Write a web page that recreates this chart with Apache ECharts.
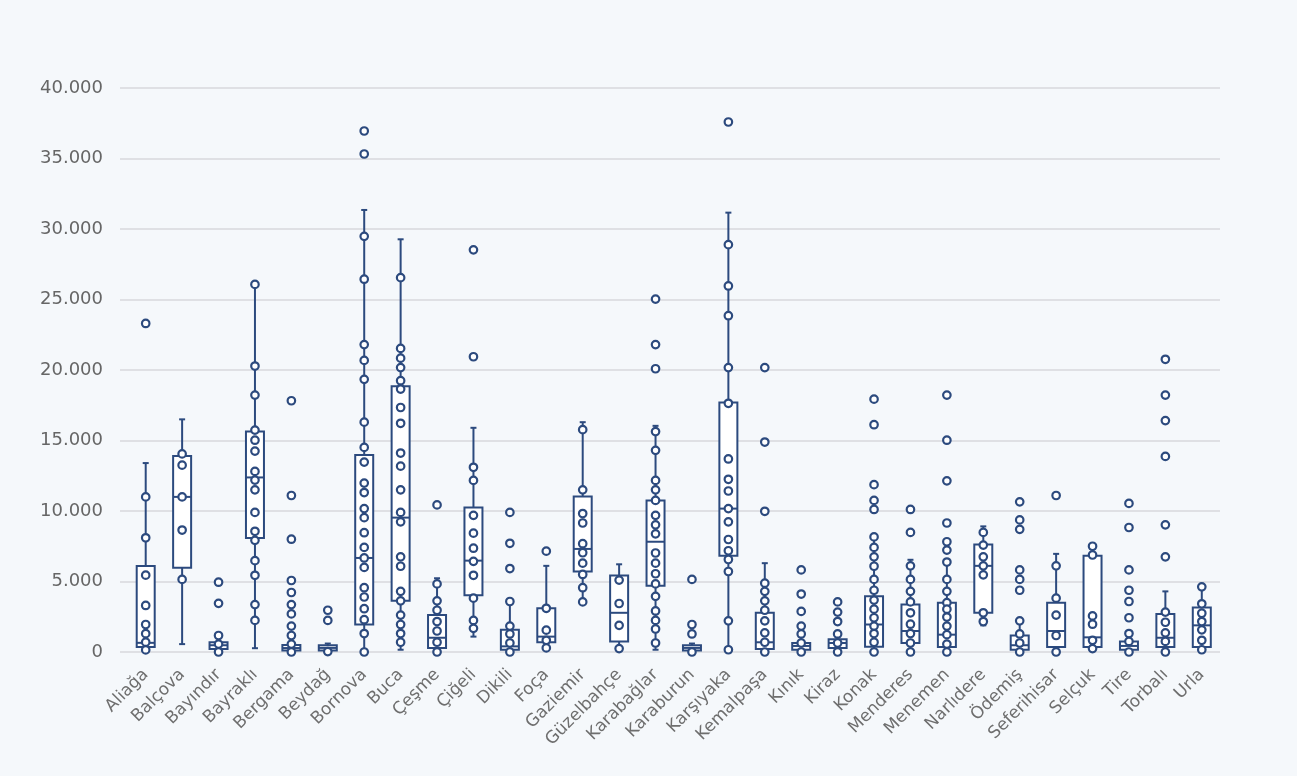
<!DOCTYPE html>
<html>
<head>
<meta charset="utf-8">
<script src="https://cdn.jsdelivr.net/npm/echarts@6/dist/echarts.min.js"></script>
<style>
  html, body { margin: 0; padding: 0; background: #f5f8fb; }
  #chart { width: 1297px; height: 776px; }
</style>
</head>
<body>
<div id="chart"></div>
<script>
// İzmir districts
const districts = ['Aliağa','Balçova','Bayındır','Bayraklı','Bergama','Beydağ','Bornova','Buca','Çeşme','Çiğeli',
  'Dikili','Foça','Gaziemir','Güzelbahçe','Karabağlar','Karaburun','Karşıyaka','Kemalpaşa','Kınık','Kiraz',
  'Konak','Menderes','Menemen','Narlıdere','Ödemiş','Seferihisar','Selçuk','Tire','Torbalı','Urla'];

// Box statistics per district: [whisker min, Q1, median, Q3, whisker max]
const boxStats = [
  [150, 350, 650, 6100, 13400],
  [560, 5980, 11000, 13900, 16500],
  [0, 210, 480, 700, 1200],
  [270, 8080, 12380, 15640, 26070],
  [0, 100, 280, 500, 1200],
  [0, 110, 290, 480, 600],
  [0, 1950, 6670, 13980, 31350],
  [160, 3630, 9530, 18840, 29270],
  [0, 290, 1010, 2620, 5230],
  [1090, 4030, 6480, 10250, 15900],
  [0, 160, 400, 1570, 3580],
  [290, 690, 1090, 3100, 6110],
  [3550, 5710, 7310, 11020, 16300],
  [240, 750, 2780, 5420, 6220],
  [160, 4700, 7820, 10750, 16040],
  [0, 110, 290, 480, 600],
  [160, 6830, 10170, 17690, 31160],
  [0, 210, 690, 2780, 6300],
  [0, 160, 430, 640, 1300],
  [0, 290, 640, 910, 1300],
  [0, 370, 1950, 3950, 8160],
  [0, 640, 1490, 3360, 6540],
  [0, 350, 1230, 3500, 6380],
  [1890, 2780, 6110, 7630, 8910],
  [0, 160, 480, 1170, 2210],
  [0, 350, 1490, 3500, 6960],
  [240, 350, 1040, 6830, 7500],
  [0, 160, 430, 750, 1300],
  [0, 350, 1010, 2700, 4300],
  [160, 350, 1890, 3150, 4620]
];

// Individual observations per district (same order as districts)
const points = [
  [23300, 11000, 8100, 5450, 3300, 1950, 1300, 700, 150],
  [14050, 13250, 11000, 8650, 5150],
  [4950, 3450, 1170, 560, 0],
  [26070, 20280, 18220, 15740, 15020, 14250, 12810, 12190, 11500, 9900, 8560, 7920, 6480, 5440, 3360, 2240],
  [17820, 11100, 8000, 5070, 4220, 3360, 2700, 1840, 1170, 560, 0],
  [2960, 2240, 30],
  [36950, 35320, 29480, 26440, 21800, 20680, 19340, 16300, 14510, 13470, 11980, 11310, 10170, 9530, 8460, 7420, 6670, 6000, 4560, 3900, 3070, 2290, 1310, 0],
  [26550, 21530, 20840, 20170, 19240, 18650, 17340, 16220, 14110, 13180, 11500, 9900, 9230, 6750, 6080, 4300, 3630, 2620, 1950, 1310, 690],
  [10430, 4830, 3630, 2960, 2160, 1490, 690, 0],
  [28520, 20940, 13100, 12170, 9690, 8430, 7360, 6430, 5440, 3820, 2240, 1680],
  [9900, 7710, 5920, 3580, 1840, 1280, 640, 0],
  [7150, 3100, 1550, 830, 290],
  [15770, 11500, 9820, 9150, 7680, 7040, 6300, 5500, 4560, 3550],
  [5100, 3440, 1890, 240],
  [25030, 21800, 20090, 15630, 14300, 12170, 11500, 10750, 9690, 9020, 8380, 7020, 6300, 5550, 4830, 3950, 2910, 2240, 1630, 640],
  [5150, 1950, 1280, 0],
  [37590, 28890, 25960, 23850, 20170, 17640, 13690, 12250, 11420, 10170, 9230, 7980, 7180, 6560, 5710, 2210, 160],
  [20170, 14890, 9980, 4880, 4300, 3630, 2960, 2210, 1360, 690, 0],
  [5820, 4110, 2880, 1840, 1280, 640, 0],
  [3550, 2830, 2160, 1280, 640, 0],
  [17930, 16120, 11870, 10750, 10110, 8160, 7420, 6750, 6080, 5150, 4380, 3680, 3040, 2430, 1840, 1310, 690, 0],
  [10110, 8480, 6110, 5150, 4300, 3550, 2780, 1970, 1310, 640, 0],
  [18220, 15020, 12140, 9150, 7820, 7230, 6380, 5150, 4300, 3500, 3040, 2480, 1840, 1230, 560, 0],
  [8480, 7580, 6750, 6110, 5470, 2780, 2160],
  [10650, 9370, 8700, 5820, 5150, 4380, 2210, 1280, 640, 0],
  [11100, 6110, 3820, 2620, 1170, 0],
  [7500, 6880, 2560, 1970, 830, 240],
  [10540, 8830, 5820, 4380, 3580, 2430, 1310, 750, 0],
  [20760, 18220, 16410, 13870, 9020, 6750, 2830, 2110, 1360, 750, 0],
  [4620, 3420, 2750, 2160, 1570, 830, 160]
];

const yTicks = { min: 0, max: 40000, interval: 5000 };

const NAVY = '#2c4a7e';
const FONT = 'DejaVu Sans';

const boxData = boxStats.map((s, i) => [i].concat(s));
const pointData = [];
points.forEach((arr, i) => arr.forEach(v => pointData.push([i, v])));

function thousands(v) {
  return String(v).replace(/\B(?=(\d{3})+(?!\d))/g, '.');
}

// Box with whiskers, short end caps and a median line
function renderBox(params, api) {
  const i = api.value(0);
  const mn = api.value(1), q1 = api.value(2), md = api.value(3), q3 = api.value(4), mx = api.value(5);
  const x = api.coord([i, 0])[0];
  const y = v => api.coord([i, v])[1];
  const half = 9, cap = 3;
  const line = { stroke: NAVY, lineWidth: 2, fill: null };
  return {
    type: 'group',
    children: [
      { type: 'line', shape: { x1: x, y1: y(mx), x2: x, y2: y(q3) }, style: line },
      { type: 'line', shape: { x1: x, y1: y(q1), x2: x, y2: y(mn) }, style: line },
      { type: 'line', shape: { x1: x - cap, y1: y(mx), x2: x + cap, y2: y(mx) }, style: line },
      { type: 'line', shape: { x1: x - cap, y1: y(mn), x2: x + cap, y2: y(mn) }, style: line },
      { type: 'rect', shape: { x: x - half, y: y(q3), width: half * 2, height: Math.max(y(q1) - y(q3), 1) },
        style: { fill: '#ffffff', stroke: NAVY, lineWidth: 2 } },
      { type: 'line', shape: { x1: x - half, y1: y(md), x2: x + half, y2: y(md) }, style: line }
    ]
  };
}

const chart = echarts.init(document.getElementById('chart'), null, { renderer: 'canvas' });
chart.setOption({
  backgroundColor: '#f5f8fb',
  animation: false,
  grid: [
    { left: 120, right: 77, top: 88, bottom: 124 },
    { left: 127.5, right: 77, top: 88, bottom: 124 }
  ],
  xAxis: [
    { gridIndex: 0, type: 'value', min: 0, max: 1, show: false },
    {
      gridIndex: 1, type: 'category', data: districts, boundaryGap: true,
      axisLine: { show: false }, axisTick: { show: false },
      axisLabel: { rotate: 45, interval: 0, margin: 20, color: '#6e6e6e', fontFamily: FONT, fontSize: 17 }
    }
  ],
  yAxis: [
    {
      gridIndex: 0, type: 'value', min: yTicks.min, max: yTicks.max, interval: yTicks.interval,
      axisLine: { show: false }, axisTick: { show: false },
      axisLabel: { margin: 17, color: '#666666', fontFamily: FONT, fontSize: 18, formatter: thousands },
      splitLine: { show: true, lineStyle: { color: '#d7d9dc', width: 1.5 } }
    },
    {
      gridIndex: 1, type: 'value', min: yTicks.min, max: yTicks.max, interval: yTicks.interval, show: false,
      splitLine: { show: false }
    }
  ],
  series: [
    {
      type: 'custom', xAxisIndex: 1, yAxisIndex: 1,
      renderItem: renderBox,
      encode: { x: 0, y: [1, 2, 3, 4, 5] },
      data: boxData, z: 2
    },
    {
      type: 'scatter', xAxisIndex: 1, yAxisIndex: 1,
      data: pointData, symbol: 'circle', symbolSize: 7.5,
      itemStyle: { color: '#ffffff', borderColor: NAVY, borderWidth: 2.2, opacity: 1 },
      z: 3
    }
  ]
});
</script>
</body>
</html>
